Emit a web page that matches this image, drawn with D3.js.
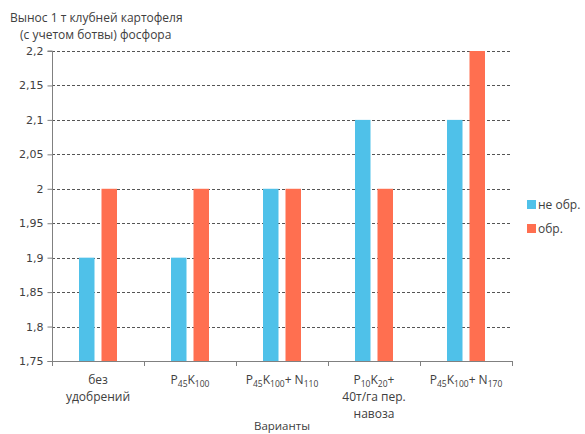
<!DOCTYPE html>
<html>
<head>
<meta charset="utf-8">
<script src="https://cdn.jsdelivr.net/npm/d3@7"></script>
<style>
  body { margin: 0; background: #fff; }
  svg { display: block; }
</style>
</head>
<body>
<svg id="chart" width="585" height="434"></svg>
<script>
// Category labels: each is a list of lines, each line a list of [text, isSubscript] runs
const categories = [
  [[["без", false]], [["удобрений", false]]],
  [[["P", false], ["45", true], ["K", false], ["100", true]]],
  [[["P", false], ["45", true], ["K", false], ["100", true], ["+ N", false], ["110", true]]],
  [[["P", false], ["10", true], ["K", false], ["20", true], ["+", false]], [["40т/га пер.", false]], [["навоза", false]]],
  [[["P", false], ["45", true], ["K", false], ["100", true], ["+ N", false], ["170", true]]]
];
const seriesNames = ["не обр.", "обр."];
const untreated = [1.9, 1.9, 2.0, 2.1, 2.1];
const treated = [2.0, 2.0, 2.0, 2.0, 2.2];
const yTicks = [1.75, 1.8, 1.85, 1.9, 1.95, 2.0, 2.05, 2.1, 2.15, 2.2];
const colors = ["#4FC1E9", "#FF6F50"];

const svg = d3.select("#chart");
const plotLeft = 52, plotRight = 512, plotTop = 51, plotBottom = 361;

const x = d3.scaleBand().domain(d3.range(categories.length)).range([plotLeft, plotRight]);
const y = d3.scaleLinear().domain([1.75, 2.2]).range([plotBottom, plotTop]);
const barW = 15.5, gap = 7;

// Dashed horizontal gridlines
svg.append("g").selectAll("line").data(yTicks.slice(1)).join("line")
  .attr("x1", plotLeft).attr("x2", plotRight)
  .attr("y1", d => Math.round(y(d)) + 0.5).attr("y2", d => Math.round(y(d)) + 0.5)
  .attr("stroke", "#555").attr("stroke-width", 1).attr("stroke-dasharray", "3,2");

// Bars
const series = [untreated, treated];
series.forEach((vals, si) => {
  svg.append("g").selectAll("rect").data(vals).join("rect")
    .attr("x", (d, i) => x(i) + x.bandwidth() / 2 + (si === 0 ? -gap / 2 - barW : gap / 2))
    .attr("width", barW)
    .attr("y", d => y(d))
    .attr("height", d => plotBottom - y(d))
    .attr("fill", colors[si]);
});

// Y axis
const yAxis = d3.axisLeft(y).tickValues(yTicks).tickSize(5).tickPadding(4)
  .tickFormat(d => String(+d.toFixed(2)).replace(".", ","));
const gy = svg.append("g").attr("transform", `translate(${plotLeft + 0.5},0)`).call(yAxis);
gy.select(".domain").attr("stroke", "#808080").attr("d", `M-5,${y(2.2)}H0V${plotBottom + 0.5}H-5`);
gy.selectAll(".tick line").attr("stroke", "#808080");
gy.selectAll(".tick text").attr("font-family", "DejaVu Sans, Verdana, sans-serif")
  .attr("font-size", 11).attr("fill", "#404040");

// X axis line with boundary ticks
const bounds = d3.range(categories.length + 1).map(i => i < categories.length ? x(i) : plotRight);
svg.append("line").attr("x1", plotLeft).attr("x2", plotRight)
  .attr("y1", plotBottom + 0.5).attr("y2", plotBottom + 0.5).attr("stroke", "#808080");
svg.append("g").selectAll("line").data(bounds).join("line")
  .attr("x1", d => Math.round(d) + 0.5).attr("x2", d => Math.round(d) + 0.5)
  .attr("y1", plotBottom).attr("y2", plotBottom + 5).attr("stroke", "#808080");

// Category labels with subscripts
const labFont = "'Open Sans', 'Noto Sans', sans-serif";
const catG = svg.append("g");
categories.forEach((lines, i) => {
  const cx = x(i) + x.bandwidth() / 2;
  lines.forEach((runs, li) => {
    const t = catG.append("text").attr("x", cx).attr("y", 384 + li * 17)
      .attr("text-anchor", "middle").attr("font-family", labFont)
      .attr("font-size", 12).attr("fill", "#404040");
    let prevSub = false;
    runs.forEach(([txt, sub]) => {
      const ts = t.append("tspan").text(txt)
        .attr("dy", sub && !prevSub ? 3 : (!sub && prevSub ? -3 : 0));
      if (sub) ts.attr("font-size", 8.5);
      prevSub = sub;
    });
  });
});

// Axis title at the bottom edge
svg.append("text").attr("x", (plotLeft + plotRight) / 2).attr("y", 430)
  .attr("text-anchor", "middle").attr("font-family", labFont)
  .attr("font-size", 11.5).attr("fill", "#404040").text("Варианты");

// Chart title
const title = svg.append("text").attr("font-family", labFont)
  .attr("font-size", 12).attr("fill", "#404040");
title.append("tspan").attr("x", 10).attr("y", 22).text("Вынос 1 т клубней картофеля");
title.append("tspan").attr("x", 20).attr("y", 39).text("(с учетом ботвы) фосфора");

// Legend
const leg = svg.append("g");
seriesNames.forEach((name, i) => {
  const ly = 205 + i * 24;
  leg.append("rect").attr("x", 527).attr("y", ly - 5).attr("width", 9).attr("height", 9)
    .attr("fill", colors[i]);
  leg.append("text").attr("x", 538).attr("y", ly + 4).attr("font-family", labFont)
    .attr("font-size", 12).attr("fill", "#404040").text(name);
});
</script>
</body>
</html>
